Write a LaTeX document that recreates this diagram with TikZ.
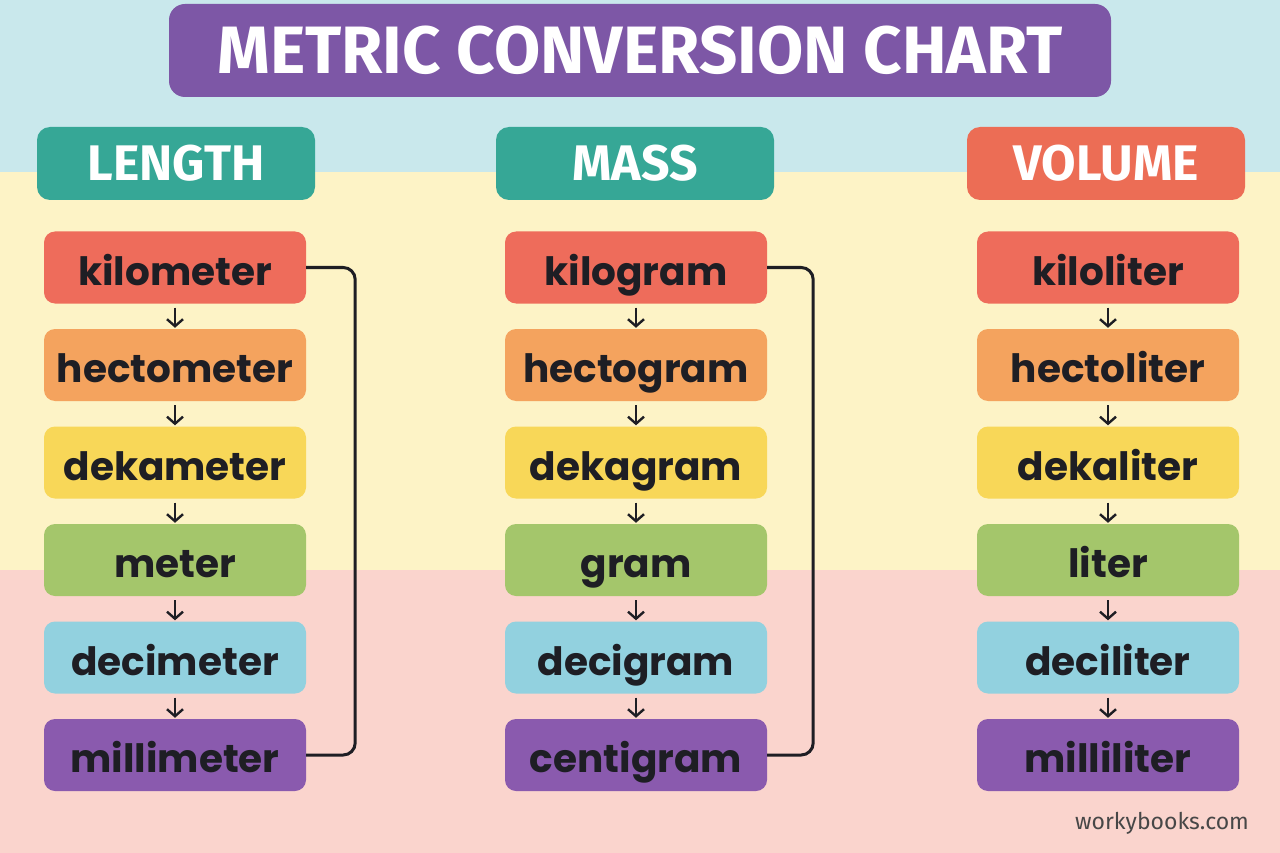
\documentclass[tikz,border=0pt]{standalone}
\usepackage{fontspec}
\setmainfont{Fira Sans}
\newfontfamily\labelfont{Poppins}
\usepackage{tikz}
\usetikzlibrary{arrows.meta}

\definecolor{bgblue}{HTML}{C9E8EC}
\definecolor{bgyellow}{HTML}{FDF3C6}
\definecolor{bgpink}{HTML}{FAD4CD}
\definecolor{titlepurple}{HTML}{7D57A6}
\definecolor{headteal}{HTML}{36A796}
\definecolor{headcoral}{HTML}{EC6D55}
\definecolor{kilored}{HTML}{EE6C5B}
\definecolor{hectoorange}{HTML}{F4A35E}
\definecolor{dekayellow}{HTML}{F8D758}
\definecolor{basegreen}{HTML}{A4C66B}
\definecolor{deciblue}{HTML}{92D1DF}
\definecolor{millipurple}{HTML}{8A5AAE}
\definecolor{inkdark}{HTML}{1E1E24}

\tikzset{>={Straight Barb[length=7pt,width=16pt,line width=2.4pt]}}
\tikzset{
  unitbox/.style={rounded corners=11pt, minimum width=262pt, minimum height=72pt,
    inner sep=0pt, text=inkdark, text height=36pt, text depth=1pt,
    font=\labelfont\bfseries\fontsize{39}{39}\selectfont},
  headbox/.style={rounded corners=13pt, minimum width=278pt, minimum height=73pt,
    inner sep=0pt, text=white, font=\bfseries\fontsize{50}{50}\selectfont},
  downarrow/.style={->, line width=2.4pt, draw=inkdark, shorten <=4pt, shorten >=1pt},
  bracket/.style={line width=3pt, draw=inkdark, rounded corners=12pt}
}

\begin{document}
\begin{tikzpicture}[x=1pt,y=-1pt]

  \newcommand\Dy{97.5}

  % background bands
  \fill[bgblue](0,0) rectangle (1280,172);
  \fill[bgyellow](0,172) rectangle (1280,570);
  \fill[bgpink](0,570) rectangle (1280,853);
  \useasboundingbox (0,0) rectangle (1280,853);

  \node[rounded corners=16pt, fill=titlepurple, minimum width=942pt, minimum height=93pt,
    text=white, font=\bfseries\fontsize{67}{67}\selectfont] (title) at (640,50.5)
    {METRIC CONVERSION CHART};

  \node[headbox, fill=headteal] (length) at (176,163.5) {LENGTH};
  \node[headbox, fill=headteal] (mass) at (635,163.5) {MASS};
  \node[headbox, fill=headcoral] (volume) at (1106,163.5) {VOLUME};

  % length
  \node[unitbox, fill=kilored] (km) at (175,267.5) {kilometer};
  \node[unitbox, fill=hectoorange] (hm) at (175,267.5+\Dy) {hectometer};
  \node[unitbox, fill=dekayellow] (dam) at (175,267.5+2*\Dy) {dekameter};
  \node[unitbox, fill=basegreen] (m) at (175,267.5+3*\Dy) {meter};
  \node[unitbox, fill=deciblue] (dm) at (175,267.5+4*\Dy) {decimeter};
  \node[unitbox, fill=millipurple] (mm) at (175,267.5+5*\Dy) {millimeter};

  % mass
  \node[unitbox, fill=kilored] (kg) at (636,267.5) {kilogram};
  \node[unitbox, fill=hectoorange] (hg) at (636,267.5+\Dy) {hectogram};
  \node[unitbox, fill=dekayellow] (dag) at (636,267.5+2*\Dy) {dekagram};
  \node[unitbox, fill=basegreen] (g) at (636,267.5+3*\Dy) {gram};
  \node[unitbox, fill=deciblue] (dg) at (636,267.5+4*\Dy) {decigram};
  \node[unitbox, fill=millipurple] (cg) at (636,267.5+5*\Dy) {centigram};

  % volume
  \node[unitbox, fill=kilored] (kl) at (1108,267.5) {kiloliter};
  \node[unitbox, fill=hectoorange] (hl) at (1108,267.5+\Dy) {hectoliter};
  \node[unitbox, fill=dekayellow] (dal) at (1108,267.5+2*\Dy) {dekaliter};
  \node[unitbox, fill=basegreen] (l) at (1108,267.5+3*\Dy) {liter};
  \node[unitbox, fill=deciblue] (dl) at (1108,267.5+4*\Dy) {deciliter};
  \node[unitbox, fill=millipurple] (ml) at (1108,267.5+5*\Dy) {milliliter};

  \draw[downarrow](km)--(hm);
  \draw[downarrow](hm)--(dam);
  \draw[downarrow](dam)--(m);
  \draw[downarrow](m)--(dm);
  \draw[downarrow](dm)--(mm);

  \draw[downarrow](kg)--(hg);
  \draw[downarrow](hg)--(dag);
  \draw[downarrow](dag)--(g);
  \draw[downarrow](g)--(dg);
  \draw[downarrow](dg)--(cg);

  \draw[downarrow](kl)--(hl);
  \draw[downarrow](hl)--(dal);
  \draw[downarrow](dal)--(l);
  \draw[downarrow](l)--(dl);
  \draw[downarrow](dl)--(ml);

  \draw[bracket](km.east) -- ++(49,0) |- (mm.east);
  \draw[bracket](kg.east) -- ++(46,0) |- (cg.east);

  \node[text=black!72, font=\fontsize{23}{23}\selectfont] (site) at (1162,823) {workybooks.com};

\end{tikzpicture}
\end{document}
